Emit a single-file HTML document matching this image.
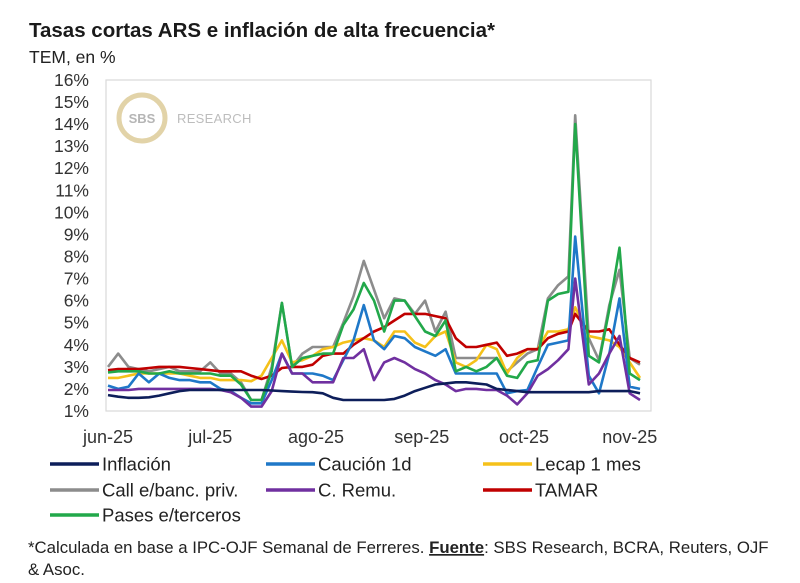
<!DOCTYPE html>
<html><head><meta charset="utf-8">
<style>
body{margin:0;background:#fff;font-family:"Liberation Sans",Arial,sans-serif;}
#wrap{position:relative;width:800px;height:583px;overflow:hidden;background:#fff;}
</style></head>
<body>
<div id="wrap">
<svg id="chart" width="800" height="583" viewBox="0 0 800 583" xmlns="http://www.w3.org/2000/svg">
<text x="29" y="37" font-size="20.5" font-weight="bold" fill="#1a1a1a">Tasas cortas ARS e inflación de alta frecuencia*</text>
<text x="29" y="63" font-size="17.5" fill="#222">TEM, en %</text>
<rect x="106" y="80" width="545" height="331" fill="none" stroke="#d9d9d9" stroke-width="1.2"/>
<g>
<circle cx="142" cy="118" r="23" fill="#fff" stroke="#e2d3a8" stroke-width="5"/>
<text x="142" y="123" font-size="13" font-weight="bold" fill="#b5b5b5" text-anchor="middle">SBS</text>
<text x="177" y="123" font-size="13" fill="#bdbdbd" letter-spacing="0.3">RESEARCH</text>
</g>
<g id="yticks"></g>
<g id="xticks"></g>
<g id="series"></g>
<g id="legend"></g>
<text x="28" y="553" font-size="16.8" fill="#222">*Calculada en base a IPC-OJF Semanal de Ferreres. <tspan font-weight="bold" text-decoration="underline">Fuente</tspan>: SBS Research, BCRA, Reuters, OJF</text>
<text x="28" y="575" font-size="16.8" fill="#222">&amp; Asoc.</text>
</svg>
</div>
<script>
const days=[0,3,6,9,12,15,18,21,24,27,30,33,36,39,42,45,48,51,54,57,60,63,66,69,72,75,78,81,84,87,90,93,96,99,102,105,108,111,114,117,120,123,126,129,132,135,137,141,144,147,150,153,156];
const inflacion=[1.72,1.65,1.6,1.6,1.62,1.7,1.8,1.9,1.95,1.95,1.95,1.95,1.95,1.95,1.95,1.95,1.93,1.9,1.88,1.86,1.85,1.8,1.6,1.5,1.5,1.5,1.5,1.5,1.55,1.7,1.9,2.05,2.2,2.25,2.3,2.3,2.25,2.2,2.0,1.95,1.9,1.85,1.85,1.85,1.85,1.85,1.85,1.85,1.9,1.9,1.9,1.9,1.8];
const caucion=[2.15,2.0,2.1,2.7,2.3,2.7,2.5,2.4,2.4,2.3,2.3,2.0,1.9,1.6,1.35,1.35,2.4,3.6,2.7,2.7,2.7,2.6,2.4,3.3,4.2,5.8,4.2,3.8,4.4,4.3,3.9,3.7,3.5,3.8,2.7,2.7,2.7,2.7,2.7,1.8,1.9,1.95,3.0,4.0,4.1,4.2,8.9,2.6,1.8,3.6,6.1,2.1,2.0];
const lecap=[2.5,2.5,2.6,2.7,2.7,2.7,2.7,2.7,2.6,2.5,2.5,2.4,2.4,2.4,2.35,2.6,3.4,4.2,3.2,3.3,3.5,3.8,3.9,4.1,4.2,4.3,4.2,3.9,4.6,4.6,4.1,3.9,4.4,4.6,3.2,3.0,3.3,4.0,3.8,2.7,3.4,3.8,3.8,4.6,4.6,4.7,5.7,4.4,4.3,4.2,3.9,3.2,2.5];
const callPriv=[3.0,3.6,3.0,2.9,2.8,2.9,3.0,2.8,2.8,2.8,3.2,2.7,2.7,2.3,1.5,1.5,3.0,5.9,3.0,3.6,3.9,3.9,3.9,5.0,6.2,7.8,6.5,5.2,6.1,6.0,5.4,6.0,4.6,5.5,3.4,3.4,3.4,3.4,3.4,2.8,3.2,3.6,3.8,6.1,6.7,7.1,14.4,4.3,3.3,5.8,7.4,3.4,3.1];
const remu=[1.95,1.95,1.95,2.0,2.0,2.0,2.0,2.0,2.0,2.0,2.0,1.95,1.85,1.6,1.2,1.2,1.9,3.6,2.7,2.7,2.3,2.3,2.3,3.4,3.4,3.8,2.4,3.2,3.4,3.2,2.9,2.7,2.4,2.2,1.9,2.0,2.0,1.95,1.95,1.7,1.3,1.8,2.6,2.9,3.3,3.8,7.0,2.2,2.7,3.6,4.4,1.8,1.5];
const tamar=[2.85,2.9,2.9,2.9,2.95,3.0,3.0,3.0,2.95,2.9,2.85,2.8,2.8,2.8,2.6,2.45,2.6,2.95,3.0,3.0,3.1,3.5,3.6,3.6,4.0,4.3,4.6,4.8,5.1,5.4,5.4,5.4,5.3,5.2,4.3,3.9,3.9,4.0,4.1,3.5,3.6,3.8,3.8,4.3,4.5,4.6,5.4,4.6,4.6,4.7,4.0,3.4,3.2];
const pases=[2.75,2.8,2.8,2.8,2.7,2.7,2.8,2.7,2.7,2.7,2.7,2.6,2.6,2.2,1.5,1.5,2.8,5.9,3.0,3.4,3.5,3.6,3.6,4.9,5.6,6.8,6.0,4.6,6.0,6.0,5.3,4.6,4.4,5.1,2.8,3.0,2.8,3.0,3.4,2.6,2.5,3.2,3.3,6.0,6.3,6.4,14.0,3.5,3.2,5.6,8.4,2.7,2.4];
const yTicks=[1,2,3,4,5,6,7,8,9,10,11,12,13,14,15,16];
const xTickLabels=["jun-25","jul-25","ago-25","sep-25","oct-25","nov-25"];
const xTickDays=[0,30,61,92,122,153];

const NS="http://www.w3.org/2000/svg";
function xS(d){return 108+d*3.41;}
function yS(v){return 411-(v-1)*22.07;}
function mk(tag,attrs,parent){const e=document.createElementNS(NS,tag);for(const k in attrs)e.setAttribute(k,attrs[k]);parent.appendChild(e);return e;}

const yg=document.getElementById('yticks');
yTicks.forEach(v=>{
  const t=mk('text',{x:89,y:yS(v)+6,'font-size':17.5,fill:'#333','text-anchor':'end'},yg);
  t.textContent=v+'%';
  
  
});
const xg=document.getElementById('xticks');
xTickLabels.forEach((l,i)=>{
  const t=mk('text',{x:xS(xTickDays[i]),y:443,'font-size':18,fill:'#333','text-anchor':'middle'},xg);
  t.textContent=l;
  
  
});

const seriesList=[
 {name:'call-e-banc-priv-line',data:callPriv,color:'#8c8c8c'},
 {name:'lecap-line',data:lecap,color:'#f5c11a'},
 {name:'tamar-line',data:tamar,color:'#c00000'},
 {name:'caucion-line',data:caucion,color:'#1f78c8'},
 {name:'c-remu-line',data:remu,color:'#7030a0'},
 {name:'pases-line',data:pases,color:'#22a84a'},
 {name:'inflacion-line',data:inflacion,color:'#0d1e5a'}
];
const sg=document.getElementById('series');
seriesList.forEach(s=>{
  const pts=s.data.map((v,i)=>xS(days[i]).toFixed(1)+','+yS(v).toFixed(1)).join(' ');
  const p=mk('polyline',{points:pts,fill:'none',stroke:s.color,'stroke-width':2.6,'stroke-linejoin':'round'},sg);
  
  
});

const legendItems=[
 ['Inflación','#0d1e5a',50,464],['Caución 1d','#1f78c8',266,464],['Lecap 1 mes','#f5c11a',483,464],
 ['Call e/banc. priv.','#8c8c8c',50,490],['C. Remu.','#7030a0',266,490],['TAMAR','#c00000',483,490],
 ['Pases e/terceros','#22a84a',50,515]
];
const lg=document.getElementById('legend');
legendItems.forEach(it=>{
  const g=mk('g',{},lg);
  
  
  mk('line',{x1:it[2],x2:it[2]+49,y1:it[3],y2:it[3],stroke:it[1],'stroke-width':3.5},g);
  const t=mk('text',{x:it[2]+52,y:it[3]+6.5,'font-size':18.5,fill:'#222'},g);
  t.textContent=it[0];
});
</script>
</body></html>
